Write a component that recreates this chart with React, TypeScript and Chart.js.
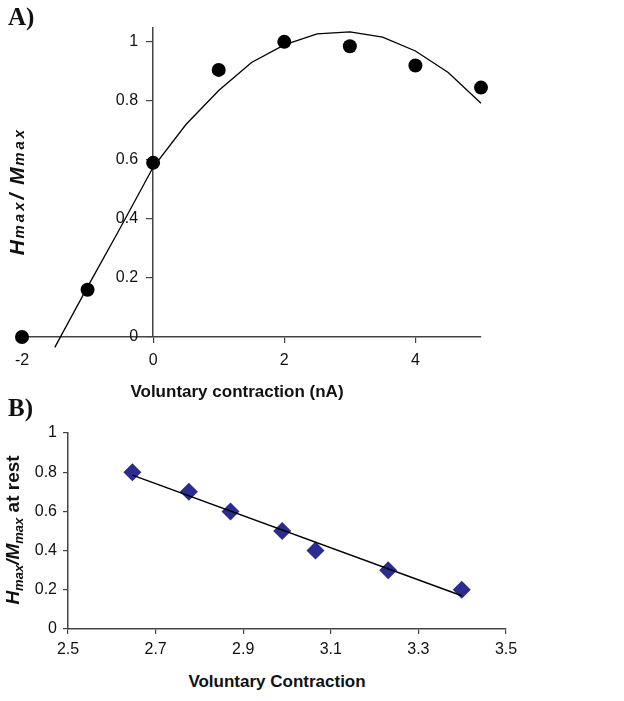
import React, { useEffect, useRef } from 'react';
import { Chart, registerables } from 'chart.js';

Chart.register(...registerables);

// ---- Panel A data ----
const contractionA = [-2, -1, 0, 1, 2, 3, 4, 5];
const ratioA = [0, 0.16, 0.59, 0.905, 1.0, 0.985, 0.92, 0.845];
const fitXA = [-1.5, -1, -0.5, 0, 0.5, 1, 1.5, 2, 2.5, 3, 3.5, 4, 4.5, 5];
const fitYA = [-0.035, 0.17, 0.37, 0.575, 0.72, 0.835, 0.93, 0.99, 1.027, 1.034, 1.016, 0.969, 0.896, 0.792];
const xTicksA = [-2, 0, 2, 4];
const yTicksA = [0, 0.2, 0.4, 0.6, 0.8, 1];

// ---- Panel B data ----
const contractionB = [2.647, 2.776, 2.871, 2.989, 3.065, 3.231, 3.399];
const ratioB = [0.8, 0.7, 0.6, 0.5, 0.4, 0.3, 0.2];
const trendXB = [2.647, 3.399];
const trendYB = [0.785, 0.17];
const xTicksB = [2.5, 2.7, 2.9, 3.1, 3.3, 3.5];
const yTicksB = [0, 0.2, 0.4, 0.6, 0.8, 1];

const SANS = '"Liberation Sans", Arial, Helvetica, sans-serif';
const AXIS = '#444444';
const TEXT = '#111111';
const tickFont = { family: SANS, size: 16 };

const fmt = (v: number) => String(Math.round(v * 10) / 10);

export default function App() {
  const refA = useRef<HTMLCanvasElement>(null);
  const refB = useRef<HTMLCanvasElement>(null);

  useEffect(() => {
    const chartA = new Chart(refA.current as HTMLCanvasElement, {
      type: 'scatter',
      data: {
        datasets: [
          {
            label: 'fit',
            data: fitXA.map((x, i) => ({ x, y: fitYA[i] })),
            showLine: true,
            borderColor: '#000',
            borderWidth: 1.3,
            pointRadius: 0,
            fill: false,
            clip: false,
          } as any,
          {
            label: 'data',
            data: contractionA.map((x, i) => ({ x, y: ratioA[i] })),
            pointRadius: 7,
            pointBackgroundColor: '#000',
            pointBorderColor: '#000',
            pointBorderWidth: 0,
            clip: false,
          } as any,
        ],
      },
      options: {
        responsive: false,
        animation: false,
        events: [],
        layout: { padding: { left: 22, right: 143, top: 28, bottom: 0 } },
        plugins: { legend: { display: false }, tooltip: { enabled: false } },
        scales: {
          x: {
            type: 'linear',
            position: 'bottom',
            min: -2,
            max: 5,
            afterBuildTicks: (s: any) => {
              s.ticks = xTicksA.map((v) => ({ value: v }));
            },
            afterFit: (s: any) => {
              s.height = 43;
            },
            grid: { drawOnChartArea: false, drawTicks: true, tickLength: 6, color: AXIS, lineWidth: 1.2 },
            border: { display: true, color: AXIS, width: 1.5 },
            ticks: { font: tickFont, color: TEXT, padding: 8, maxRotation: 0, callback: (v: any) => fmt(Number(v)) },
          },
          // axis line + tick marks, crossing at x = 0
          y: {
            type: 'linear',
            position: { x: 0 } as any,
            min: 0,
            max: 1.047,
            afterBuildTicks: (s: any) => {
              s.ticks = yTicksA.map((v) => ({ value: v }));
            },
            grid: { drawOnChartArea: false, drawTicks: true, tickLength: 6, color: AXIS, lineWidth: 1.2 },
            border: { display: true, color: AXIS, width: 1.5 },
            ticks: { display: false },
          },
          // tick labels of the same axis, set just left of the tick marks
          yLabels: {
            type: 'linear',
            axis: 'y',
            position: { x: -0.23 } as any,
            min: 0,
            max: 1.047,
            afterBuildTicks: (s: any) => {
              s.ticks = yTicksA.map((v) => ({ value: v }));
            },
            grid: { display: false },
            border: { display: false },
            ticks: { font: tickFont, color: TEXT, callback: (v: any) => fmt(Number(v)) },
          },
        },
      } as any,
    });

    const chartB = new Chart(refB.current as HTMLCanvasElement, {
      type: 'scatter',
      data: {
        datasets: [
          {
            label: 'trend',
            data: trendXB.map((x, i) => ({ x, y: trendYB[i] })),
            showLine: true,
            borderColor: '#000',
            borderWidth: 1.5,
            pointRadius: 0,
            fill: false,
            clip: false,
          } as any,
          {
            label: 'data',
            data: contractionB.map((x, i) => ({ x, y: ratioB[i] })),
            pointStyle: 'rectRot',
            pointRadius: 9,
            pointBackgroundColor: '#2b2b90',
            pointBorderColor: '#2b2b90',
            pointBorderWidth: 0,
            clip: false,
          } as any,
        ],
      },
      options: {
        responsive: false,
        animation: false,
        events: [],
        layout: { padding: { left: 0, right: 118, top: 33, bottom: 0 } },
        plugins: { legend: { display: false }, tooltip: { enabled: false } },
        scales: {
          x: {
            type: 'linear',
            position: 'bottom',
            min: 2.5,
            max: 3.5,
            afterBuildTicks: (s: any) => {
              s.ticks = xTicksB.map((v) => ({ value: v }));
            },
            afterFit: (s: any) => {
              s.height = 41;
            },
            grid: { drawOnChartArea: false, drawTicks: true, tickLength: 5, color: AXIS, lineWidth: 1.2 },
            border: { display: true, color: AXIS, width: 1.5 },
            ticks: { font: tickFont, color: TEXT, padding: 6, maxRotation: 0, callback: (v: any) => Number(v).toFixed(1) },
          },
          y: {
            type: 'linear',
            position: 'left',
            min: 0,
            max: 1,
            afterBuildTicks: (s: any) => {
              s.ticks = yTicksB.map((v) => ({ value: v }));
            },
            afterFit: (s: any) => {
              s.width = 68;
            },
            grid: { drawOnChartArea: false, drawTicks: true, tickLength: 5, color: AXIS, lineWidth: 1.2 },
            border: { display: true, color: AXIS, width: 1.5 },
            ticks: { font: tickFont, color: TEXT, padding: 6, callback: (v: any) => fmt(Number(v)) },
          },
        },
      } as any,
    });

    return () => {
      chartA.destroy();
      chartB.destroy();
    };
  }, []);

  const panelLabel: React.CSSProperties = {
    position: 'absolute',
    fontFamily: '"Liberation Serif", "Times New Roman", serif',
    fontWeight: 'bold',
    fontSize: 25,
    lineHeight: '25px',
    color: '#111',
  };
  const xTitle: React.CSSProperties = {
    position: 'absolute',
    transform: 'translate(-50%, -50%)',
    fontFamily: SANS,
    fontWeight: 'bold',
    fontSize: 17,
    color: TEXT,
    whiteSpace: 'nowrap',
  };
  const yTitle: React.CSSProperties = {
    position: 'absolute',
    transform: 'translate(-50%, -50%) rotate(-90deg)',
    fontFamily: SANS,
    fontWeight: 'bold',
    color: TEXT,
    whiteSpace: 'nowrap',
    lineHeight: 1,
  };

  return (
    <div style={{ position: 'absolute', left: 0, top: 0, width: 624, height: 701, background: '#fff', overflow: 'hidden' }}>
      <canvas ref={refA} width={624} height={380} style={{ position: 'absolute', left: 0, top: 0, width: 624, height: 380 }} />
      <canvas ref={refB} width={624} height={270} style={{ position: 'absolute', left: 0, top: 400, width: 624, height: 270 }} />

      <div style={{ ...panelLabel, left: 8, top: 4 }}>A)</div>
      <div style={{ ...panelLabel, left: 8, top: 395 }}>B)</div>

      <div style={{ ...xTitle, left: 237, top: 392 }}>Voluntary contraction (nA)</div>
      <div style={{ ...xTitle, left: 277, top: 682 }}>Voluntary Contraction</div>

      <div style={{ ...yTitle, left: 16, top: 191, fontStyle: 'italic', fontSize: 21, letterSpacing: 1.5 }}>
        H<span style={{ fontSize: 15, letterSpacing: 3 }}>max</span>/ M<span style={{ fontSize: 15, letterSpacing: 3 }}>max</span>
      </div>
      <div style={{ ...yTitle, left: 14, top: 530, fontSize: 19 }}>
        <i>H</i>
        <sub style={{ fontSize: 13, fontStyle: 'italic', verticalAlign: '-4px' }}>max</sub>
        <i>/M</i>
        <sub style={{ fontSize: 13, fontStyle: 'italic', verticalAlign: '-4px' }}>max</sub>
        {'  '}at rest
      </div>
    </div>
  );
}
